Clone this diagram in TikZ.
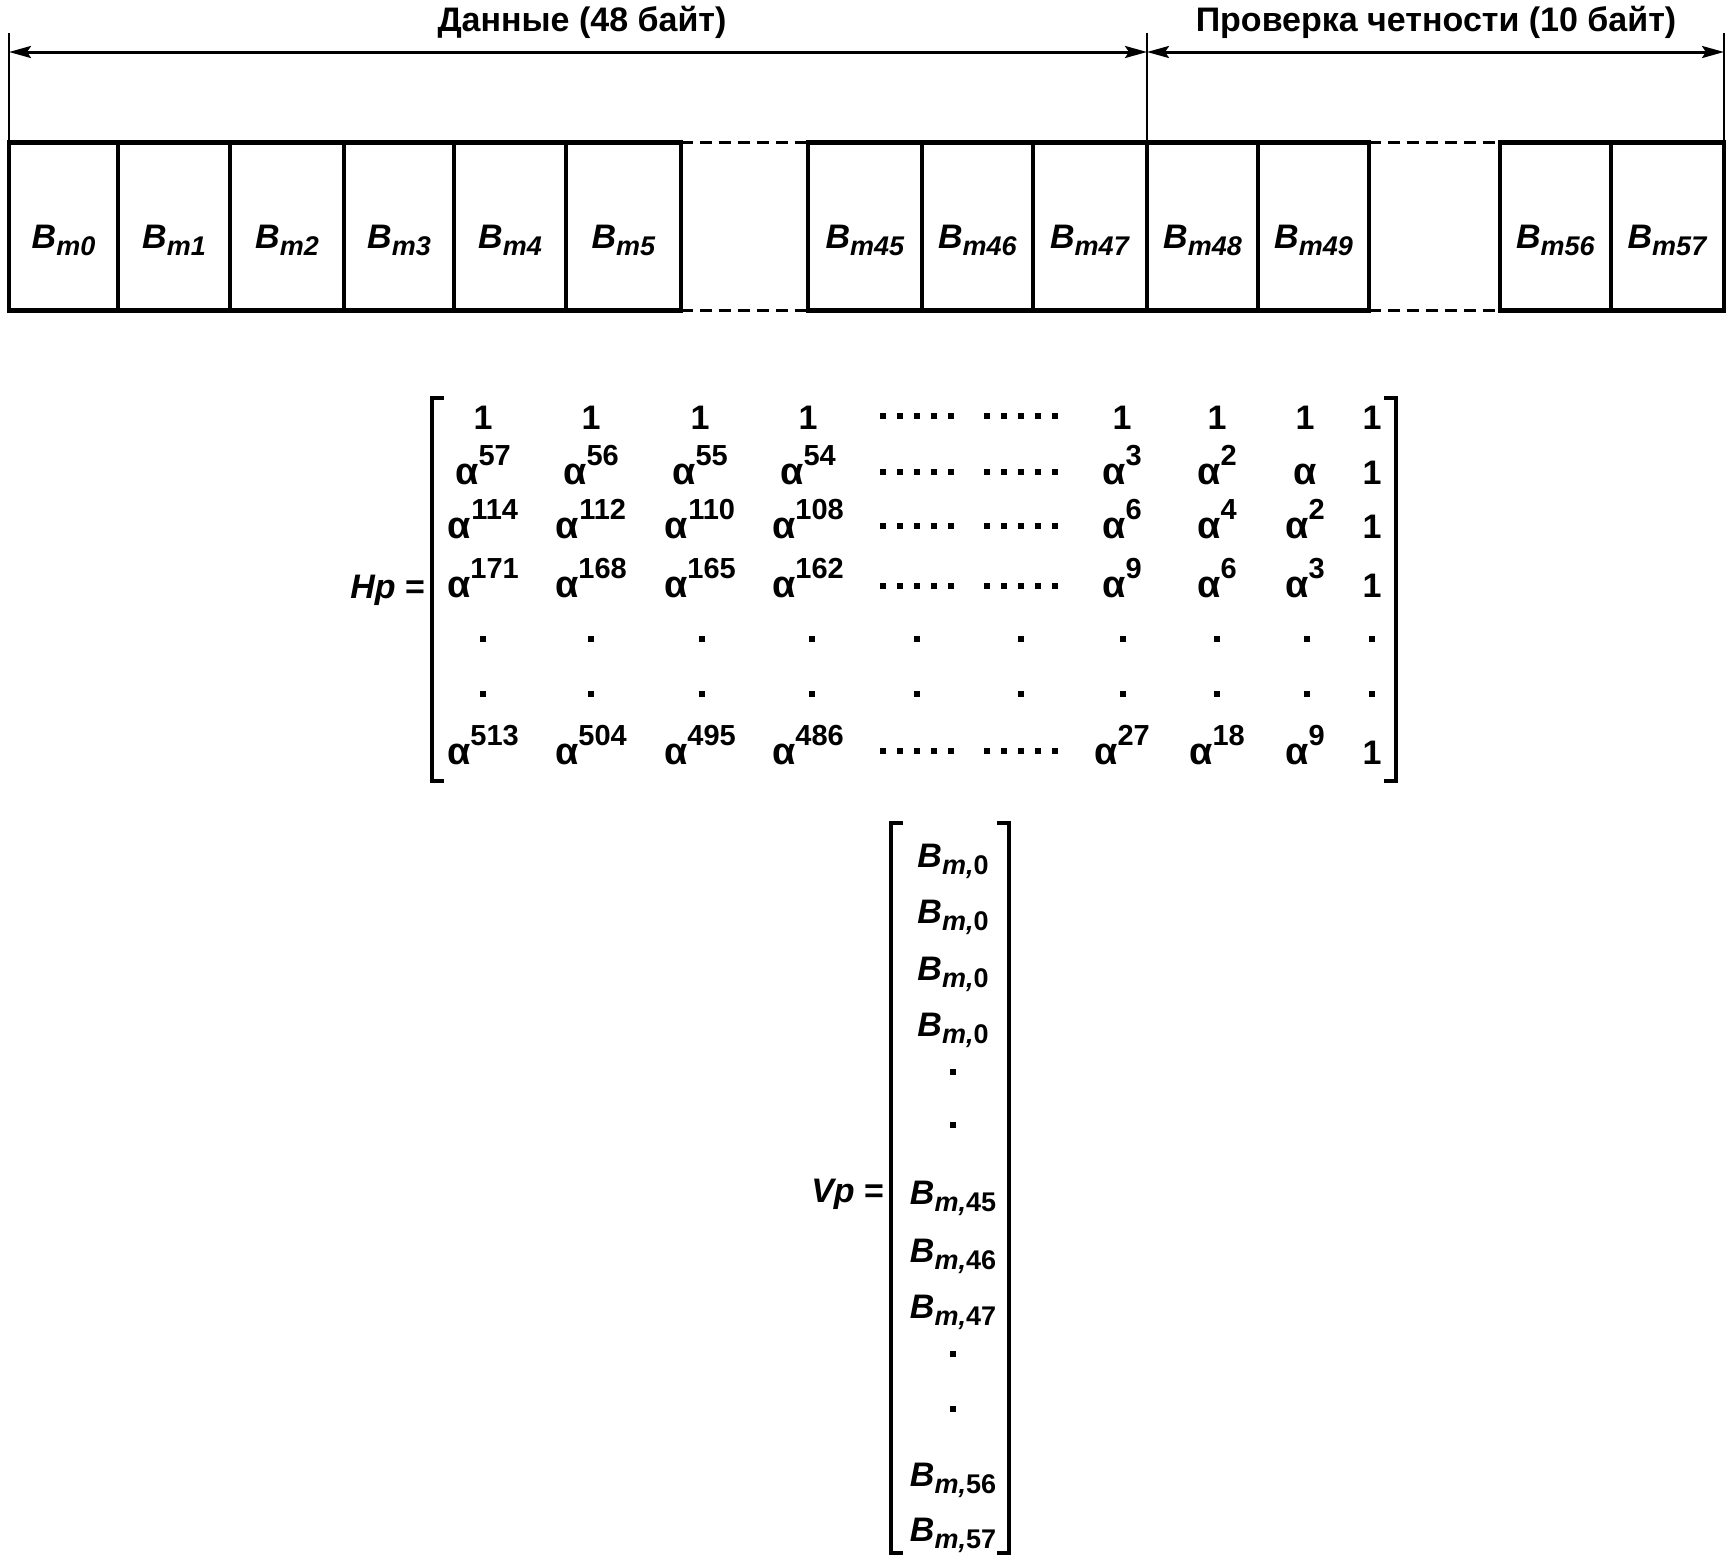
\documentclass[tikz,border=0pt]{standalone}
\usepackage{fontspec}
\setmainfont{Liberation Sans}
\usetikzlibrary{arrows.meta}
\newcommand\Bm[1]{\textit{B}\raisebox{-7pt}{\fontsize{27}{30}\selectfont\textit{m#1}}}
\newcommand\Bv[1]{\textit{B}\raisebox{-7pt}{\fontsize{27}{30}\selectfont\textit{m,}#1}}
\newcommand\alp{{\fontsize{38}{42}\selectfont α}}
\newcommand\al[1]{\alp\raisebox{19pt}{\fontsize{29}{30}\selectfont #1}}
\newcommand\sqdot[2]{\fill ({#1-2.75},{#2-2.75}) rectangle +(5.5,5.5);}
\newcommand\fivedots[2]{\foreach \k in {-2,...,2}{\sqdot{#1+17*\k}{#2}}}
\begin{document}
\begin{tikzpicture}[x=1pt,y=-1pt,
  every node/.style={font=\fontsize{34}{40}\selectfont\bfseries, inner sep=0pt, outer sep=0pt},
  cell/.style={draw, line width=4.6pt, minimum height=168pt, inner sep=0pt, outer sep=0pt},
  lab/.style={anchor=base},
  thin/.style={line width=2pt},
  dim/.style={line width=3pt, {Stealth[length=22pt,width=12pt,inset=4pt]}-{Stealth[length=22pt,width=12pt,inset=4pt]}},
  gap/.style={line width=3.4pt, dash pattern=on 12pt off 7pt},
  brk/.style={line width=3.4pt}]
\useasboundingbox (0,0) rectangle (1733,1561);
% cells
\foreach \n/\l/\r in {0/9/118,1/118/230,2/230/344,3/344/454,4/454/566,5/566/681,45/808/922,46/922/1033,47/1033/1147,48/1147/1258,49/1258/1369,56/1500/1611,57/1611/1724}{
  \node[cell, minimum width={\r-\l}] (b\n) at ({(\l+\r)/2},226.6) {};
  \node[lab] (t\n) at ({(\l+\r)/2},248) {\Bm{\n}};
}
% dashed gaps
\draw[gap] (b5.north east) -- (b45.north west);
\draw[gap] (b5.south east) -- (b45.south west);
\draw[gap] (b49.north east) -- (b56.north west);
\draw[gap] (b49.south east) -- (b56.south west);
% dimension lines
\coordinate (tL) at (9,33);
\coordinate (tM) at (1147,33);
\coordinate (tR) at (1724,33);
\coordinate (aL) at (9,52);
\coordinate (aM) at (1147,52);
\coordinate (aR) at (1724,52);
\draw[thin] (tL) -- (b0.north west);
\draw[thin] (tM) -- (b48.north west);
\draw[thin] (tR) -- (b57.north east);
\draw[dim] (aL) -- (aM);
\draw[dim] (aM) -- (aR);
\node (data) at (582,22) {Данные (48 байт)};
\node (par) at (1436,22) {Проверка четности (10 байт)};
% Hp matrix
\node[anchor=base east] (hp) at (425,598) {\textit{Hp} =};
\draw[brk] (444,398) -- (432,398) -- (432,781) -- (444,781);
\draw[brk] (1384,398) -- (1396,398) -- (1396,781) -- (1384,781);
\foreach \c/\x/\t in {1/483/1,2/591/1,3/700/1,4/808/1,7/1122/1,8/1217/1,9/1305/1,10/1372/1}
  \node[lab] (h1\c) at (\x,429) {\t};
\foreach \c/\x/\t in {1/483/\al{57},2/591/\al{56},3/700/\al{55},4/808/\al{54},7/1122/\al{3},8/1217/\al{2},9/1305/\alp,10/1372/1}
  \node[lab] (h2\c) at (\x,484) {\t};
\foreach \c/\x/\t in {1/483/\al{114},2/591/\al{112},3/700/\al{110},4/808/\al{108},7/1122/\al{6},8/1217/\al{4},9/1305/\al{2},10/1372/1}
  \node[lab] (h3\c) at (\x,538) {\t};
\foreach \c/\x/\t in {1/483/\al{171},2/591/\al{168},3/700/\al{165},4/808/\al{162},7/1122/\al{9},8/1217/\al{6},9/1305/\al{3},10/1372/1}
  \node[lab] (h4\c) at (\x,597) {\t};
\foreach \c/\x/\t in {1/483/\al{513},2/591/\al{504},3/700/\al{495},4/808/\al{486},7/1122/\al{27},8/1217/\al{18},9/1305/\al{9},10/1372/1}
  \node[lab] (h7\c) at (\x,764) {\t};
\foreach \y in {416,472,526,586,751}{\fivedots{917}{\y}\fivedots{1021}{\y}}
\foreach \x in {483,591,702,812,917,1021,1123,1217,1307,1372}{\sqdot{\x}{639}\sqdot{\x}{694}}
% Vp vector
\node[anchor=base east] (vp) at (884,1202) {\textit{Vp} =};
\draw[brk] (903,823) -- (891,823) -- (891,1553) -- (903,1553);
\draw[brk] (997,823) -- (1009,823) -- (1009,1553) -- (997,1553);
\foreach \i/\y/\s in {1/867/0,2/923/0,3/980/0,4/1036/0,5/1204/45,6/1262/46,7/1318/47,8/1486/56,9/1541/57}
  \node[lab] (v\i) at (953,\y) {\Bv{\s}};
\foreach \y in {1072,1125,1354,1409}{\sqdot{953}{\y}}
\end{tikzpicture}
\end{document}
